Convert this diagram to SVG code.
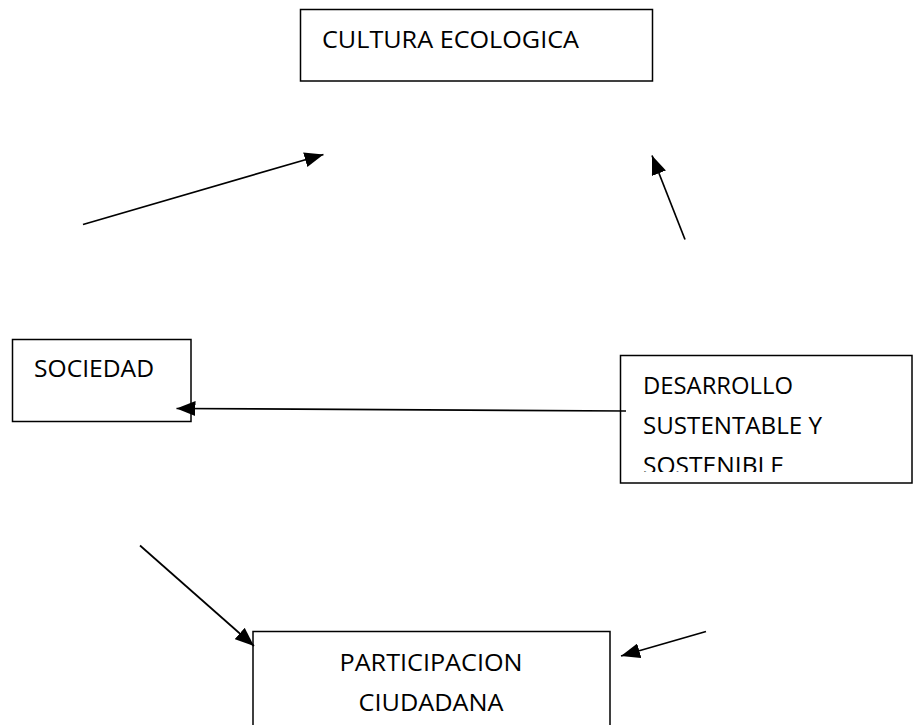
<svg xmlns="http://www.w3.org/2000/svg" width="915" height="725" viewBox="0 0 915 725">
<style>
.box{fill:#fff;stroke:#000;stroke-width:1.5}
.t{font-family:"Open Sans","Liberation Sans",sans-serif;font-size:24px;fill:#000}
.c{stroke:#000;stroke-width:1.7;fill:none;marker-end:url(#ah)}
</style>
<defs>
<marker id="ah" markerUnits="userSpaceOnUse" markerWidth="19" markerHeight="15" viewBox="0 0 19 15" refX="19" refY="7.5" orient="auto">
<path d="M0,0 L19,7.5 L0,15 Z" fill="#000"/>
</marker>
<clipPath id="clipD"><rect x="620" y="356" width="295" height="116"/></clipPath>
</defs>
<g id="cultura">
<rect class="box" x="300.5" y="9.5" width="352" height="71.5"/>
<text class="t" x="322" y="48" textLength="257" lengthAdjust="spacingAndGlyphs">CULTURA ECOLOGICA</text>
</g>
<g id="sociedad">
<rect class="box" x="12.5" y="339.5" width="178.5" height="82"/>
<text class="t" x="34" y="377" textLength="120" lengthAdjust="spacingAndGlyphs">SOCIEDAD</text>
</g>
<g id="desarrollo">
<rect class="box" x="620.5" y="355.5" width="291.5" height="127.5"/>
<g clip-path="url(#clipD)">
<text class="t" x="643" y="394" textLength="150" lengthAdjust="spacingAndGlyphs">DESARROLLO</text>
<text class="t" x="643" y="434" textLength="179" lengthAdjust="spacingAndGlyphs">SUSTENTABLE Y</text>
<text class="t" x="643" y="474" textLength="141" lengthAdjust="spacingAndGlyphs">SOSTENIBLE</text>
</g>
</g>
<g id="participacion">
<rect class="box" x="253" y="631.5" width="357" height="110"/>
<text class="t" x="431" y="671" text-anchor="middle" textLength="183" lengthAdjust="spacingAndGlyphs">PARTICIPACION</text>
<text class="t" x="431" y="711" text-anchor="middle" textLength="145" lengthAdjust="spacingAndGlyphs">CIUDADANA</text>
</g>
<g id="connectors">
<line class="c" x1="83" y1="224.5" x2="323.5" y2="154.5"/>
<line class="c" x1="685" y1="239.5" x2="652" y2="155.5"/>
<line class="c" x1="626" y1="411" x2="176.5" y2="408.5"/>
<line class="c" x1="140" y1="545.5" x2="254" y2="646"/>
<line class="c" x1="706" y1="631.5" x2="621" y2="656"/>
</g>
</svg>
